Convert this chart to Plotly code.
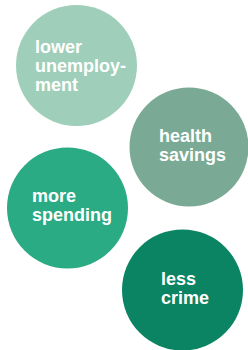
import plotly.graph_objects as go

# Data
labels = [["lower", "unemploy-", "ment"], ["health", "savings"], ["more", "spending"], ["less", "crime"]]
cx = [76.5, 189, 67.5, 182.5]
cy = [65.5, 147, 208, 290]
diam = [121, 119, 121, 121]
colors = ["#9fcfba", "#7aaa95", "#2bab84", "#0a8462"]
text_x = [35, 159, 32, 161]
text_baseline = [53, 141.5, 201.5, 285]
line_gap = 19

fig = go.Figure()
fig.add_trace(go.Scatter(
    x=cx, y=cy, mode="markers",
    marker=dict(size=diam, color=colors, opacity=1, line=dict(width=0)),
    hoverinfo="skip", showlegend=False,
))

annotations = []
for lab, tx, tb in zip(labels, text_x, text_baseline):
    for i, line in enumerate(lab):
        annotations.append(dict(
            x=tx, y=tb + i * line_gap - 6, xref="x", yref="y",
            text=line, showarrow=False, xanchor="left", yanchor="middle",
            borderpad=0, borderwidth=0,
            font=dict(family="Liberation Sans, Arial, sans-serif", size=18, color="white", weight="bold"),
        ))

fig.update_layout(
    width=248, height=350,
    margin=dict(l=0, r=0, t=0, b=0),
    paper_bgcolor="white", plot_bgcolor="white",
    xaxis=dict(range=[0, 248], visible=False, fixedrange=True),
    yaxis=dict(range=[350, 0], visible=False, fixedrange=True),
    annotations=annotations,
)
fig.write_html("out.html", config={"displayModeBar": False},
               post_script="document.body.style.margin='0px';document.body.style.overflow='hidden';")
